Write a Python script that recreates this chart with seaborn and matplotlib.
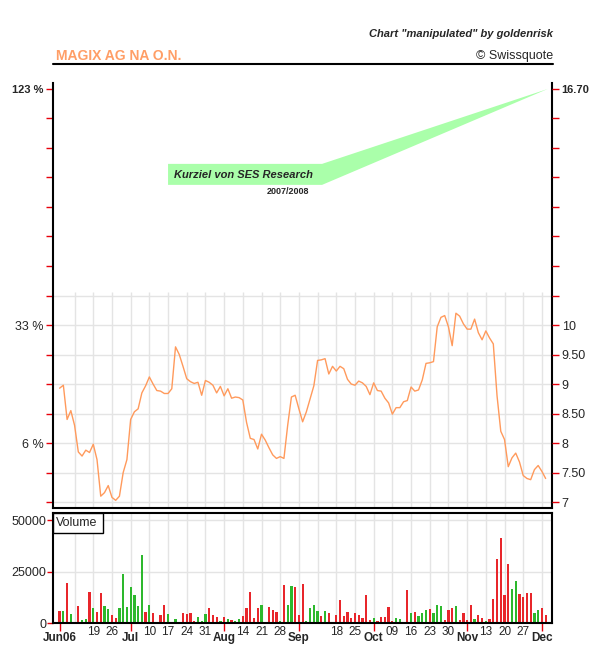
import numpy as np
import pandas as pd
import matplotlib
matplotlib.use("Agg")
from matplotlib import pyplot as plt
from matplotlib.patches import Polygon, Rectangle
from matplotlib.lines import Line2D
import seaborn as sns

# trading days shown on the chart
days = pd.bdate_range("2006-06-06", "2006-12-05")

# closing prices (EUR), one per trading day
price = [8.93, 8.98, 8.40, 8.55, 8.30, 7.85, 7.78, 7.88, 7.84, 7.98,
         7.72, 7.10, 7.16, 7.28, 7.08, 7.03, 7.10, 7.50, 7.72, 8.40,
         8.53, 8.58, 8.85, 8.97, 9.12, 9.00, 8.89, 8.88, 8.84, 8.84,
         8.92, 9.63, 9.50, 9.30, 9.09, 9.04, 9.01, 9.03, 8.81, 9.06,
         9.03, 8.98, 8.85, 8.96, 8.80, 8.92, 8.76, 8.78, 8.77, 8.73,
         8.35, 8.08, 8.06, 7.90, 8.15, 8.05, 7.92, 7.80, 7.74, 7.77,
         7.74, 8.30, 8.78, 8.81, 8.58, 8.36, 8.53, 8.75, 8.97, 9.40,
         9.41, 9.43, 9.17, 9.30, 9.22, 9.30, 9.26, 9.08, 9.00, 8.98,
         9.05, 9.02, 8.96, 8.82, 9.02, 8.89, 8.88, 8.76, 8.68, 8.49,
         8.60, 8.60, 8.70, 8.72, 8.95, 8.88, 8.90, 9.07, 9.35, 9.36,
         9.38, 9.97, 10.13, 10.16, 9.97, 9.65, 10.20, 10.15, 10.02, 9.93,
         9.93, 10.10, 9.87, 9.75, 9.90, 9.78, 9.68, 8.80, 8.20, 8.06,
         7.60, 7.75, 7.83, 7.68, 7.45, 7.40, 7.38, 7.55, 7.62, 7.52,
         7.40]

# daily volume
volume = [6000, 6000, 19500, 4500, 600, 8400, 1600, 2100, 15100, 7200,
          5500, 14600, 8400, 6900, 4000, 2600, 7200, 23800, 7900, 17500,
          13700, 8400, 33000, 5500, 8800, 5000, 600, 4000, 8800, 4500,
          0, 2100, 600, 5000, 4500, 5000, 1100, 3000, 800, 4500,
          7400, 4000, 3000, 1100, 3000, 2100, 1600, 1100, 2100, 3500,
          7400, 15100, 2600, 7400, 8800, 600, 7900, 6400, 5500, 1100,
          18500, 8800, 18000, 17700, 4000, 19000, 1100, 7200, 8800, 6000,
          3500, 6000, 5000, 600, 4000, 11300, 3500, 5500, 2600, 5000,
          4000, 2600, 13700, 1600, 2600, 1100, 3000, 3000, 7900, 1100,
          2600, 2100, 0, 16100, 5000, 5500, 3500, 5000, 6400, 6900,
          5000, 8800, 8400, 1600, 6400, 7400, 8400, 1600, 5000, 1600,
          8800, 2100, 4000, 2600, 1100, 2100, 11700, 31100, 41200, 13400,
          28700, 16600, 20400, 14200, 12700, 14600, 14600, 5000, 6400, 7400,
          4000]

# r = down day, g = up day (30 days per chunk)
updown = "".join(["rgrgrrggrgrrggrrgggggggrgrrrrg",
                  "ggrrrrrgggrrrgrgrggrrrrrgrrrrg",
                  "rggrrrggggrgrgrrrrrrrrrrgrrrrr",
                  "gggrgrgggrgggrrrgrrrrgrrgrrrrr",
                  "rggrrrrggrr"])

target = 16.70          # "Kurziel" of SES Research
grid_top = 10.5         # last tick of the real price scale

week_days = ["2006-06-19", "2006-06-26", "2006-07-10", "2006-07-17", "2006-07-24",
             "2006-07-31", "2006-08-14", "2006-08-21", "2006-08-28", "2006-09-18",
             "2006-09-25", "2006-10-09", "2006-10-16", "2006-10-23", "2006-10-30",
             "2006-11-13", "2006-11-20", "2006-11-27"]
week_labels = ["19", "26", "10", "17", "24", "31", "14", "21", "28", "18",
               "25", "09", "16", "23", "30", "13", "20", "27"]
month_days = ["2006-06-06", "2006-07-03", "2006-08-07", "2006-09-04",
              "2006-10-02", "2006-11-06", "2006-12-04"]
month_labels = ["Jun06", "Jul", "Aug", "Sep", "Oct", "Nov", "Dec"]

price_ticks = [7, 7.5, 8, 8.5, 9, 9.5, 10, 10.5]
price_labels = ["7", "7.50", "8", "8.50", "9", "9.50", "10", ""]
pct_labels = {8: "6 %", 10: "33 %"}

vol_ticks = [0, 25000, 50000]

sns.set_style("white")
plt.rcParams["font.family"] = ["Liberation Sans", "DejaVu Sans"]

df = pd.DataFrame({"i": np.arange(len(days)), "price": price,
                   "volume": volume, "dir": list(updown)})
pos = {d: k for k, d in enumerate(days)}
week_pos = [pos[pd.Timestamp(d)] for d in week_days]
month_pos = [pos[pd.Timestamp(d)] for d in month_days]
grid_pos = [pos[d] for d in days if d.weekday() == 0]


# the "manipulated" part: above 10.5 the scale is squeezed so 16.70 fits
def fwd(p):
    p = np.asarray(p, dtype=float)
    return np.where(p <= grid_top, p, grid_top + (p - grid_top) * 3.5 / (target - grid_top))


def inv(v):
    v = np.asarray(v, dtype=float)
    return np.where(v <= grid_top, v, grid_top + (v - grid_top) * (target - grid_top) / 3.5)


W, H = 604, 650
fig = plt.figure(figsize=(W / 100, H / 100), dpi=100)
xlim = (-1.77, 131.7)
ylim = (6.90, float(inv(14.10)))
grid_c = "#e4e4e4"
tick_c = "#e8000b"

# header
fig.text(553 / W, 1 - 34 / H, 'Chart "manipulated" by goldenrisk', ha="right", va="center",
         fontsize=8, fontweight="bold", style="italic")
fig.text(56 / W, 1 - 56 / H, "MAGIX AG NA O.N.", ha="left", va="center",
         fontsize=10, fontweight="bold", color="#ff9e66")
fig.text(553 / W, 1 - 56 / H, "\u00a9 Swissquote", ha="right", va="center", fontsize=9)
fig.add_artist(Line2D([53 / W, 553 / W], [1 - 64 / H] * 2, color="black", lw=1.5,
                      transform=fig.transFigure))

# price panel
ax = fig.add_axes([53 / W, 1 - 508 / H, 499 / W, 425 / H])
ax.set_yscale("function", functions=(fwd, inv))
ax.hlines(price_ticks, xlim[0], xlim[1], color=grid_c, lw=1, zorder=0)
ax.vlines(grid_pos, ylim[0], 10.6, color=grid_c, lw=1, zorder=0)
sns.lineplot(data=df, x="i", y="price", ax=ax, color="#ff9a5c", lw=1)

upper = [float(inv(grid_top + 0.5 * k)) for k in range(1, 8)]
all_ticks = price_ticks + upper
ax.set_xlim(*xlim)
ax.set_ylim(*ylim)
ax.set_yticks(all_ticks)
left_labels = [pct_labels.get(t, "") for t in price_ticks] + [""] * 6 + ["123 %"]
ax.set_yticklabels(left_labels)
ax.set_xlabel("")
ax.set_ylabel("")
ax.tick_params(axis="y", which="both", direction="out", length=5, width=1, color=tick_c,
               labelsize=9, pad=2, left=True)
ax.tick_params(axis="x", bottom=False, labelbottom=False)
ax.get_yticklabels()[-1].set_fontweight("bold")
ax.get_yticklabels()[-1].set_fontsize(8)
for s in ["left", "right", "bottom"]:
    ax.spines[s].set_color("black")
    ax.spines[s].set_linewidth(1.5)
ax.spines["top"].set_visible(False)

ax2 = ax.twinx()
ax2.set_yscale("function", functions=(fwd, inv))
ax2.set_ylim(*ylim)
ax2.set_yticks(all_ticks)
ax2.set_yticklabels(price_labels + [""] * 6 + [f"{target:.2f}"])
ax2.tick_params(axis="y", direction="out", length=5, width=1, color=tick_c,
                labelsize=9, pad=2)
ax2.get_yticklabels()[-1].set_fontweight("bold")
ax2.get_yticklabels()[-1].set_fontsize(8)
for s in ax2.spines.values():
    s.set_visible(False)

# target arrow
arrow = Polygon([(29.0, 14.45), (70.2, 14.45), (130.6, target), (70.2, 13.82), (29.0, 13.82)],
                closed=True, facecolor="#aaffaa", edgecolor="none", zorder=3)
ax.add_patch(arrow)
fig.text(174 / W, 1 - 175 / H, "Kurziel von SES Research", ha="left", va="center",
         fontsize=8, fontweight="bold", style="italic", zorder=5)
fig.text(288 / W, 1 - 192 / H, "2007/2008", ha="center", va="center",
         fontsize=6.5, fontweight="bold")

# volume panel
axv = fig.add_axes([53 / W, 1 - 623 / H, 499 / W, 110 / H])
axv.hlines(vol_ticks[1:], xlim[0], xlim[1], color=grid_c, lw=1, zorder=0)
axv.vlines(grid_pos, 0, 60000, color=grid_c, lw=1, zorder=0)
sns.barplot(data=df, x="i", y="volume", hue="dir", palette={"r": "#e8262b", "g": "#2db82d"},
            dodge=False, native_scale=True, width=0.6, errorbar=None, legend=False,
            saturation=1, linewidth=0, ax=axv, zorder=2)
axv.set_xlim(*xlim)
axv.set_ylim(0, 53400)
axv.set_xlabel("")
axv.set_ylabel("")
axv.set_yticks(vol_ticks)
axv.set_yticklabels([str(v) for v in vol_ticks])
axv.tick_params(axis="y", direction="out", length=4, width=1, color=tick_c,
                labelsize=9, pad=1, left=True)
axv.set_xticks(week_pos)
axv.set_xticklabels(week_labels)
axv.set_xticks(month_pos, minor=True)
axv.set_xticklabels(month_labels, minor=True, fontweight="bold")
axv.tick_params(axis="x", which="major", length=0, labelsize=8.5, pad=2.5)
axv.tick_params(axis="x", which="minor", direction="out", length=6, width=1, color=tick_c,
                labelsize=8.5, pad=0.3, bottom=True)
for s in axv.spines.values():
    s.set_color("black")
    s.set_linewidth(1.5)

axv.add_patch(Rectangle((0, 1 - 20 / 110), 50 / 499, 20 / 110, transform=axv.transAxes,
                        facecolor="white", edgecolor="black", lw=1, zorder=4, clip_on=False))
axv.text(3 / 499, 1 - 10 / 110, "Volume", transform=axv.transAxes, ha="left", va="center",
         fontsize=9, zorder=5)

fig.savefig("out.png", dpi=100)
